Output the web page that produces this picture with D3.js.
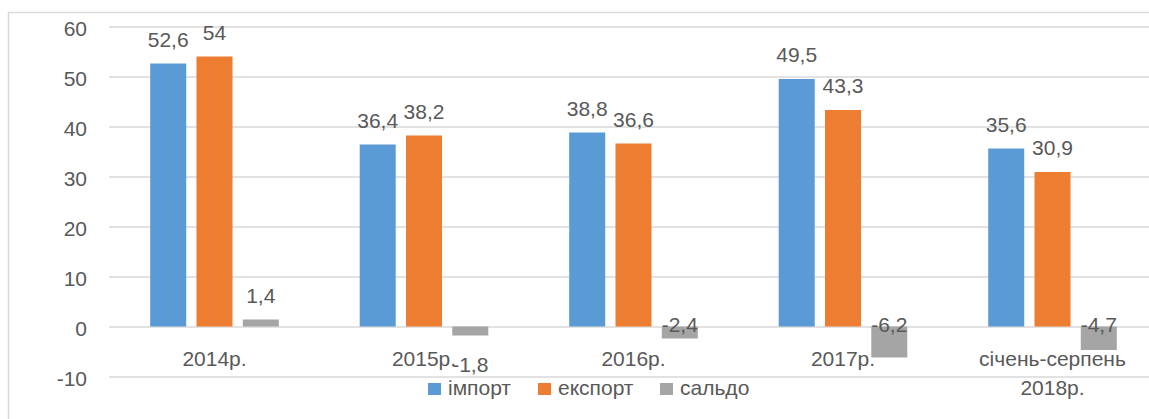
<!DOCTYPE html>
<html>
<head>
<meta charset="utf-8">
<script src="https://cdn.jsdelivr.net/npm/d3@7"></script>
<style>
  html, body { margin: 0; padding: 0; background: #fff; }
  svg { display: block; }
  text { font-family: "Liberation Sans", Arial, sans-serif; fill: #595959; }
</style>
</head>
<body>
<svg id="chart" width="1149" height="419"></svg>
<script>
// ---- data ----
const categories = ["2014р.", "2015р.", "2016р.", "2017р.", "січень-серпень\n2018р."];
const seriesNames = ["імпорт", "експорт", "сальдо"];
const importValues = [52.6, 36.4, 38.8, 49.5, 35.6];
const exportValues = [54, 38.2, 36.6, 43.3, 30.9];
const saldoValues = [1.4, -1.8, -2.4, -6.2, -4.7];
const yTicks = [-10, 0, 10, 20, 30, 40, 50, 60];

// ---- styles ----
const colors = {"імпорт": "#5B9BD5", "експорт": "#ED7D31", "сальдо": "#A5A5A5"};
const fontSize = 21;
const seriesValues = [importValues, exportValues, saldoValues];

const svg = d3.select("#chart");

// chart border
svg.append("rect")
  .attr("x", 8.5).attr("y", 12.5)
  .attr("width", 1200).attr("height", 500)
  .attr("fill", "none").attr("stroke", "#D9D9D9").attr("stroke-width", 1.5);

const y = d3.scaleLinear().domain([-10, 60]).range([376.5, 26.5]);
const x0 = d3.scaleBand().domain(categories).range([109.75, 1157.25]).padding(0);
const x1 = d3.scaleBand().domain(seriesNames).range([40.45, 169.05]).paddingInner(0.222).paddingOuter(0);

// y axis with gridlines
const yAxis = d3.axisLeft(y).tickValues(yTicks).tickSize(-1040).tickPadding(22).tickFormat(d => String(d));
const gy = svg.append("g").attr("transform", "translate(109,0)").call(yAxis);
gy.select(".domain").remove();
gy.selectAll(".tick line").attr("stroke", "#D9D9D9").attr("stroke-width", 1.5);
gy.selectAll(".tick text")
  .attr("font-size", fontSize)
  .attr("font-family", "Liberation Sans, Arial, sans-serif")
  .attr("fill", "#595959")
  .attr("dy", "0.42em");

// bars
const rows = [];
categories.forEach((c, i) => {
  seriesNames.forEach((s, j) => rows.push({cat: c, series: s, value: seriesValues[j][i]}));
});

svg.append("g").selectAll("rect.bar").data(rows).join("rect")
  .attr("class", "bar")
  .attr("x", d => x0(d.cat) + x1(d.series))
  .attr("width", x1.bandwidth())
  .attr("y", d => y(Math.max(0, d.value)))
  .attr("height", d => Math.abs(y(d.value) - y(0)))
  .attr("fill", d => colors[d.series]);

// value labels
const fmt = v => String(v).replace(".", ",");
const belowCats = new Set([categories[1]]);
svg.append("g").selectAll("text").data(rows).join("text")
  .attr("x", d => x0(d.cat) + x1(d.series) + x1.bandwidth() / 2)
  .attr("y", d => {
    if (d.value >= 0) return y(d.value) - 17;
    if (belowCats.has(d.cat)) return y(d.value) + 36;
    return y(0) + 5;
  })
  .attr("text-anchor", "middle")
  .attr("font-size", fontSize)
  .text(d => fmt(d.value));

// category labels
const catG = svg.append("g");
categories.forEach(c => {
  const lines = c.split("\n");
  const cx = x0(c) + x0.bandwidth() / 2;
  const t = catG.append("text")
    .attr("x", cx)
    .attr("y", 366)
    .attr("text-anchor", "middle")
    .attr("font-size", fontSize);
  lines.forEach((ln, k) => {
    t.append("tspan").attr("x", cx).attr("dy", k === 0 ? 0 : 29).text(ln);
  });
});

// legend
const legendX = [428, 538, 660];
const lg = svg.append("g");
seriesNames.forEach((s, i) => {
  lg.append("rect").attr("x", legendX[i]).attr("y", 383).attr("width", 13).attr("height", 12).attr("fill", colors[s]);
  lg.append("text").attr("x", legendX[i] + 20).attr("y", 395).attr("font-size", fontSize).text(s);
});
</script>
</body>
</html>
